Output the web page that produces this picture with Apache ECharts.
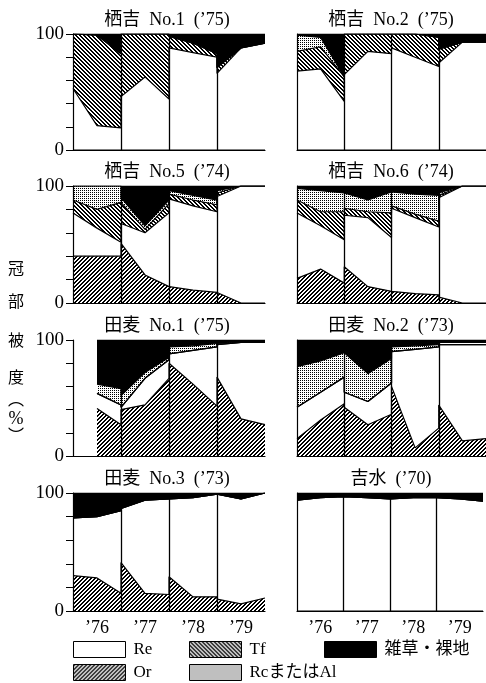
<!DOCTYPE html>
<html>
<head>
    <meta charset="utf-8">
    <title>冠部被度</title>
    <script src="https://cdn.jsdelivr.net/npm/echarts@6.0.0/dist/echarts.min.js"></script>
    <style>
        html, body { margin: 0; padding: 0; background: #fff; }
        #chart { width: 486px; height: 683px; }
    </style>
</head>
<body>
<div id="chart"></div>
<script type="text/javascript">
    // 各区の名前 (左上から右へ)
    var panelTitles = ['栖吉  No.1  (’75)', '栖吉  No.2  (’75)', '栖吉  No.5  (’74)', '栖吉  No.6  (’74)',
        '田麦  No.1  (’75)', '田麦  No.2  (’73)', '田麦  No.3  (’73)', '吉水  (’70)'];
    var yearLabels = ['’76', '’77', '’78', '’79'];
    // 1年の中の調査時期 (春・夏・秋), 1年 = 3
    var samplePos = [0, 1.5, 3];

    // 被度 (%) : 各区 12 点 = 4年 x 3時期
    var orData = [
        [0, 0, 0, 0, 0, 0, 0, 0, 0, 0, 0, 0],
        [0, 0, 0, 0, 0, 0, 0, 0, 0, 0, 0, 0],
        [40, 40, 40, 51, 24, 14, 13, 11, 9, 9, 0, 0],
        [21, 29, 17, 31, 14, 10, 9, 8, 7, 5, 0, 0],
        [null, 41, 27, 40, 44, 67, 80, 62, 43, 68, 32, 27],
        [15, 31, 45, 42, 27, 36, 60, 7, 24, 44, 13, 15],
        [30, 28, 15, 41, 15, 14, 29, 12, 12, 10, 6, 11],
        [0, 0, 0, 0, 0, 0, 0, 0, 0, 0, 0, 0]
    ];
    var reData = [
        [53, 21, 19, 46, 63, 44, 88, 84, 80, 66, 88, 92],
        [68, 70, 42, 65, 85, 83, 88, 80, 72, 75, 93, 93],
        [37, 24, 12, 17, 36, 63, 76, 72, 69, 82, 100, 100],
        [56, 37, 37, 44, 59, 46, 72, 65, 58, 85, 100, 100],
        [null, 13, 17, 2, 23, 16, 8, 29, 51, 28, 66, 71],
        [27, 24, 23, 13, 20, 27, 30, 85, 70, 52, 83, 81],
        [49, 52, 70, 46, 79, 81, 66, 84, 87, 90, 89, 89],
        [94, 96, 97, 97, 96, 95, 96, 96, 96, 96, 95, 93]
    ];
    var tfData = [
        [47, 78, 64, 54, 37, 56, 10, 8, 3, 5, 0, 0],
        [17, 19, 21, 35, 15, 17, 12, 20, 25, 12, 0, 0],
        [11, 16, 34, 18, 3, 8, 4, 5, 6, 3, 0, 0],
        [11, 12, 24, 6, 5, 21, 2, 3, 5, 2, 0, 0],
        [null, 0, 0, 0, 0, 0, 0, 0, 0, 0, 0, 0],
        [0, 0, 0, 0, 0, 0, 0, 0, 0, 0, 0, 0],
        [0, 0, 0, 0, 0, 0, 0, 0, 0, 0, 0, 0],
        [0, 0, 0, 0, 0, 0, 0, 0, 0, 0, 0, 0]
    ];
    var rcData = [
        [0, 0, 0, 0, 0, 0, 0, 0, 0, 0, 0, 0],
        [14, 8, 0, 0, 0, 0, 0, 0, 0, 0, 0, 0],
        [12, 20, 14, 4, 3, 3, 3, 4, 4, 2, 0, 0],
        [10, 18, 16, 14, 10, 18, 11, 17, 22, 2, 0, 0],
        [null, 8, 14, 10, 5, 2, 6, 4, 3, 2, 0, 0],
        [35, 27, 21, 34, 24, 21, 4, 3, 2, 2, 2, 2],
        [0, 0, 0, 0, 0, 0, 0, 0, 0, 0, 0, 0],
        [0, 0, 0, 0, 0, 0, 0, 0, 0, 0, 0, 0]
    ];
    var weedData = [
        [0, 1, 17, 0, 0, 0, 2, 8, 17, 29, 12, 8],
        [1, 3, 37, 0, 0, 0, 0, 0, 3, 13, 7, 7],
        [0, 0, 0, 10, 34, 12, 4, 8, 12, 4, 0, 0],
        [2, 4, 6, 5, 12, 5, 6, 7, 8, 6, 0, 0],
        [null, 38, 42, 48, 28, 15, 6, 5, 3, 2, 2, 2],
        [23, 18, 11, 11, 29, 16, 6, 5, 4, 2, 2, 2],
        [21, 20, 15, 13, 6, 5, 5, 4, 1, 0, 5, 0],
        [6, 4, 3, 3, 4, 5, 4, 4, 4, 4, 5, 7]
    ];
    var layerNames = ['Or', 'Re', 'Tf', 'RcまたはAl', '雑草・裸地'];

    var serif = "'Liberation Serif', 'Noto Sans CJK JP', serif";
    var cjk = "'Noto Sans CJK JP', sans-serif";

    // 斜線・点描のパターン (画素単位で描く)
    function makePattern(kind) {
        var c = document.createElement('canvas');
        c.width = 4;
        c.height = 4;
        var g = c.getContext('2d');
        g.fillStyle = '#fff';
        g.fillRect(0, 0, 4, 4);
        g.fillStyle = '#000';
        for (var x = 0; x < 4; x++) {
            for (var y = 0; y < 4; y++) {
                var on;
                if (kind === 'or') on = (x + y) % 4 === 0 || (x + y) % 4 === 1;
                else if (kind === 'tf') on = (x - y + 8) % 4 === 0 || (x - y + 8) % 4 === 1;
                else on = x % 2 === 0 && y % 2 === 0;
                if (on) g.fillRect(x, y, 1, 1);
            }
        }
        return {image: c, repeat: 'repeat'};
    }

    var layers = [orData, reData, tfData, rcData, weedData];
    var fills = [makePattern('or'), '#fff', makePattern('tf'), makePattern('rc'), '#000'];

    var colLeft = [73, 297];
    var colWidth = [192, 192];
    var rowTop = [34, 186, 340, 493];
    var rowHeight = [116, 117, 116, 118];

    var grids = [], xAxes = [], yAxes = [], series = [], titles = [];

    for (var p = 0; p < panelTitles.length; p++) {
        var row = Math.floor(p / 2), col = p % 2;
        grids.push({left: colLeft[col], top: rowTop[row], width: colWidth[col], height: rowHeight[row]});
        titles.push({
            text: panelTitles[p],
            left: colLeft[col] + colWidth[col] / 2 - 2,
            top: rowTop[row] - 23,
            textAlign: 'center',
            padding: 0,
            textStyle: {fontFamily: serif, fontSize: 18, fontWeight: 'normal', color: '#000'}
        });
        xAxes.push({
            gridIndex: p, type: 'value', min: 0, max: 12, interval: 1.5, z: 10,
            axisLine: {lineStyle: {color: '#000', width: 1.2}},
            axisTick: {show: false},
            splitLine: {show: false},
            axisLabel: {
                show: row === 3, color: '#000', fontFamily: serif, fontSize: 18, margin: 8,
                formatter: function (v) {
                    var k = Math.round(v / 1.5);
                    return k % 2 === 1 ? yearLabels[(k - 1) / 2] : '';
                }
            }
        });
        yAxes.push({
            gridIndex: p, type: 'value', min: 0, max: 100, interval: 20, z: 10,
            axisLine: {show: true, lineStyle: {color: '#000', width: 1.2}},
            axisTick: {show: col === 0, length: 7, lineStyle: {color: '#000'}},
            splitLine: {show: false},
            axisLabel: {
                show: col === 0, color: '#000', fontFamily: serif, fontSize: 19, margin: 9,
                formatter: function (v) {
                    return (v === 0 || v === 100) ? String(v) : '';
                }
            }
        });

        // 上の層から順に描き, 下の層で塗り重ねる
        for (var L = layers.length - 1; L >= 0; L--) {
            var pts = [];
            for (var j = 0; j < 12; j++) {
                var x = Math.floor(j / 3) * 3 + samplePos[j % 3];
                var sum = 0, missing = false;
                for (var m = 0; m <= L; m++) {
                    var v = layers[m][p][j];
                    if (v === null) missing = true; else sum += v;
                }
                pts.push([x, missing ? '-' : sum]);
            }
            var s = {
                name: layerNames[L] + '-' + p,
                type: 'line',
                xAxisIndex: p,
                yAxisIndex: p,
                data: pts,
                symbol: 'none',
                silent: true,
                lineStyle: {color: '#000', width: 1.2},
                areaStyle: {color: fills[L], opacity: 1}
            };
            if (L === 0) {
                s.markLine = {
                    silent: true, symbol: 'none', label: {show: false},
                    lineStyle: {color: '#000', width: 1.3, type: 'solid'},
                    data: [{xAxis: 3}, {xAxis: 6}, {xAxis: 9}]
                };
            }
            series.push(s);
        }
    }

    // 凡例用 (見えない grid)
    grids.push({left: -300, top: -300, width: 10, height: 10});
    xAxes.push({gridIndex: 8, type: 'category', data: ['a'], show: false});
    yAxes.push({gridIndex: 8, type: 'value', show: false});
    for (var k = 0; k < layerNames.length; k++) {
        series.push({
            name: layerNames[k], type: 'bar', xAxisIndex: 8, yAxisIndex: 8, data: [],
            itemStyle: {color: fills[k], borderColor: '#000', borderWidth: 1}
        });
    }
    var legendPos = {
        'Re': [73, 641], 'Tf': [189, 641], '雑草・裸地': [324, 641],
        'Or': [73, 664], 'RcまたはAl': [189, 664]
    };
    var legends = [];
    ['Re', 'Tf', '雑草・裸地', 'Or', 'RcまたはAl'].forEach(function (n) {
        legends.push({
            data: [n], left: legendPos[n][0], top: legendPos[n][1], padding: 0,
            icon: 'rect', itemWidth: 52, itemHeight: 16, selectedMode: false,
            itemStyle: {borderColor: '#000', borderWidth: 1},
            textStyle: {fontFamily: serif, fontSize: 17, color: '#000', padding: [0, 0, 0, 3]}
        });
    });

    function axisChar(t, y, font) {
        return {
            type: 'text', x: 16, y: y,
            style: {text: t, font: font, fill: '#000', textAlign: 'center', textVerticalAlign: 'middle'}
        };
    }

    var chart = echarts.init(document.getElementById('chart'));
    chart.setOption({
        animation: false,
        backgroundColor: '#fff',
        title: titles,
        legend: legends,
        grid: grids,
        xAxis: xAxes,
        yAxis: yAxes,
        series: series,
        graphic: [
            axisChar('冠', 268, '16px ' + cjk),
            axisChar('部', 301, '16px ' + cjk),
            axisChar('被', 340, '16px ' + cjk),
            axisChar('度', 377, '16px ' + cjk),
            axisChar('︵', 399, '16px ' + cjk),
            axisChar('%', 419, '18px ' + serif),
            axisChar('︶', 435, '16px ' + cjk)
        ]
    });
</script>
</body>
</html>
